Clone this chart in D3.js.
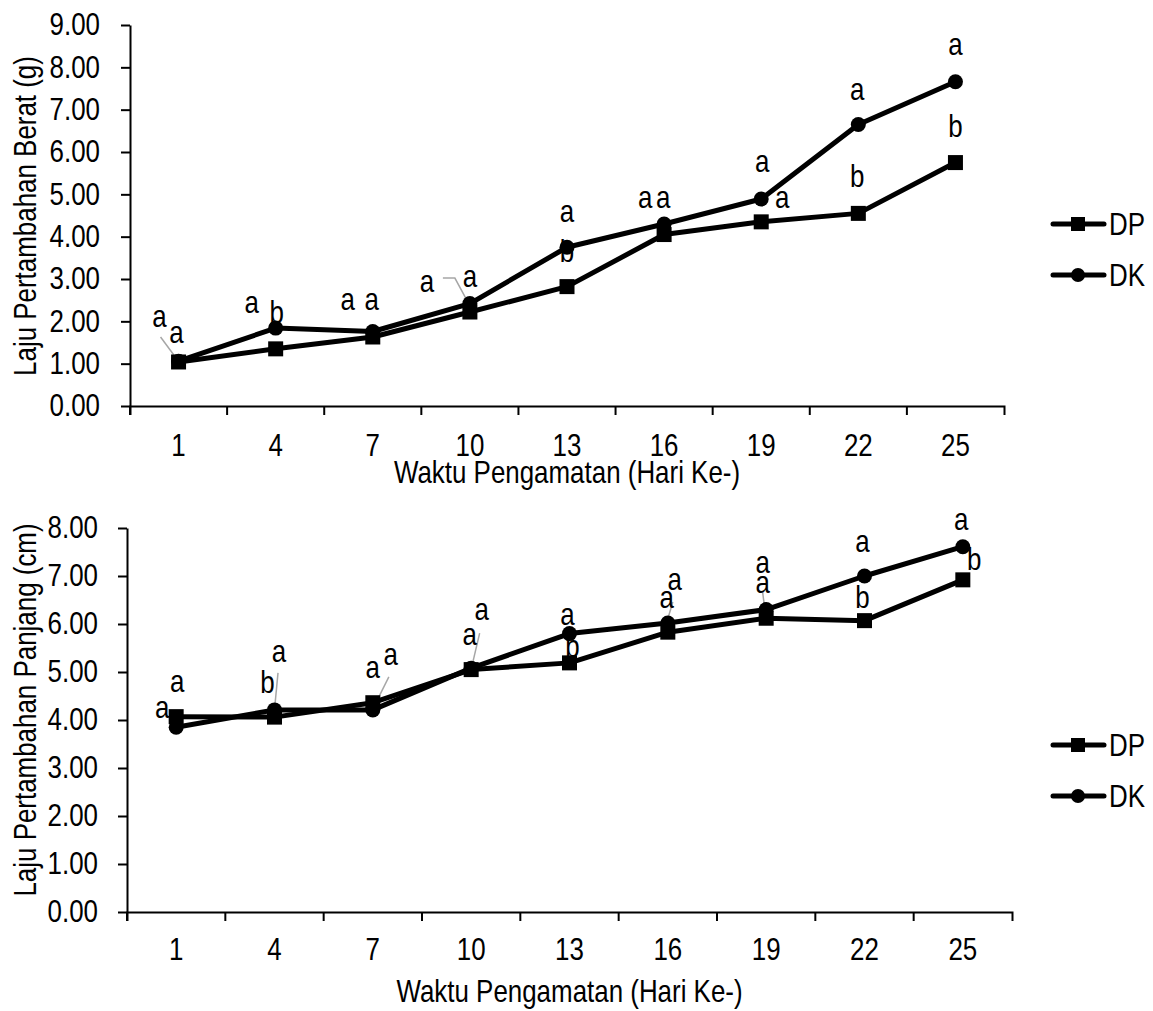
<!DOCTYPE html>
<html>
<head>
<meta charset="utf-8">
<script src="https://cdn.jsdelivr.net/npm/d3@7/dist/d3.min.js"></script>
<style>
  html, body { margin: 0; padding: 0; background: #fff; }
  svg { display: block; }
  text { font-family: "Liberation Sans", Arial, sans-serif; fill: #000; }
</style>
</head>
<body>
<svg id="chart" width="1153" height="1011"></svg>
<script>
// ---------------- DATA ----------------
const days = ["1", "4", "7", "10", "13", "16", "19", "22", "25"];
const seriesNames = ["DP", "DK"];

const weightDP = [1.04, 1.35, 1.63, 2.22, 2.82, 4.05, 4.35, 4.55, 5.75];
const weightDK = [1.06, 1.84, 1.76, 2.42, 3.75, 4.30, 4.89, 6.65, 7.66];
const weightLettersDP = ["a", "b", "a", "a", "b", "a", "a", "b", "b"];
const weightLettersDK = ["a", "a", "a", "a", "a", "a", "a", "a", "a"];
const weightTicks = [0, 1, 2, 3, 4, 5, 6, 7, 8, 9];

const lengthDP = [4.07, 4.06, 4.36, 5.05, 5.19, 5.83, 6.12, 6.07, 6.92];
const lengthDK = [3.85, 4.21, 4.21, 5.08, 5.80, 6.02, 6.30, 7.00, 7.61];
const lengthLettersDP = ["a", "b", "a", "a", "b", "a", "a", "b", "b"];
const lengthLettersDK = ["a", "a", "a", "a", "a", "a", "a", "a", "a"];
const lengthTicks = [0, 1, 2, 3, 4, 5, 6, 7, 8];

const xTitle = "Waktu Pengamatan (Hari Ke-)";

// ---------------- LAYOUT (pixel placement only) ----------------
const charts = [
  {
    dp: weightDP, dk: weightDK, lDP: weightLettersDP, lDK: weightLettersDK, ticks: weightTicks,
    yTitle: "Laju Pertambahan Berat (g)",
    x0: 130, x1: 1004, yTop: 25, yBot: 406,
    xLabelPad: 28, yLabelPad: 21, xTitleY: 483, yTitleX: 25, yTitleY: 216,
    legendY: [224, 275],
    offDP: [[-19, -35], [1, -26], [-25, -27], [-43, -20], [0, -25], [-19, -27], [21, -14], [-1, -26], [0, -26]],
    offDK: [[-2, -18], [-24, -15], [-1, -21], [0, -17], [0, -25], [-1, -16], [1, -27], [-1, -24], [0, -27]],
    leaders: [
      { s: "DP", i: 0, pts: [[-18, -25], [-1, -2]] },
      { s: "DP", i: 3, pts: [[-27, -34], [-15, -34], [-2, -10]] }
    ]
  },
  {
    dp: lengthDP, dk: lengthDK, lDP: lengthLettersDP, lDK: lengthLettersDK, ticks: lengthTicks,
    yTitle: "Laju Pertambahan Panjang (cm)",
    x0: 127, x1: 1012, yTop: 528, yBot: 912,
    xLabelPad: 26, yLabelPad: 20, xTitleY: 1002, yTitleX: 25, yTitleY: 710,
    legendY: [745, 796],
    offDP: [[1, -25], [-7, -24], [0, -25], [-1.5, -25], [3, -6], [-1, -24], [-3.5, -45], [-2, -13], [11.5, -10]],
    offDK: [[-14, -9], [4.5, -48], [18, -45], [10.5, -48], [-2, -9], [7, -33], [-3.5, -17], [-2, -24], [-1.5, -17]],
    leaders: [
      { s: "DK", i: 1, pts: [[3.5, -37], [-0.5, 5]] },
      { s: "DK", i: 2, pts: [[16, -33], [0, -1]] },
      { s: "DK", i: 3, pts: [[8.5, -35], [0.5, -1]] },
      { s: "DK", i: 5, pts: [[5, -21], [-1, -1]] },
      { s: "DK", i: 6, pts: [[-3.5, -17], [-1.5, -2]] }
    ]
  }
];

const FONT = 30.5;
const NARROW = 0.85;   // emulate a narrow sans face by horizontal compression
function narrow(sel) {
  sel.each(function () {
    const t = d3.select(this);
    const x = +(t.attr("x") || 0);
    const tr = t.attr("transform");
    t.attr("x", x / NARROW).attr("transform", (tr ? tr + " " : "") + `scale(${NARROW},1)`);
  });
}

const svg = d3.select("#chart");

charts.forEach(c => {
  const g = svg.append("g");
  const x = d3.scaleBand().domain(days).range([c.x0, c.x1]).paddingInner(0).paddingOuter(0);
  const cx = d => x(d) + x.bandwidth() / 2;
  const y = d3.scaleLinear().domain([0, d3.max(c.ticks)]).range([c.yBot, c.yTop]);

  // Y axis
  const yAxis = g.append("g").attr("transform", `translate(${c.x0},0)`)
    .call(d3.axisLeft(y).tickValues(c.ticks).tickFormat(d3.format(".2f")).tickSize(9).tickSizeOuter(0).tickPadding(c.yLabelPad));
  yAxis.selectAll("path, line").attr("stroke", "#000").attr("stroke-width", 2);
  yAxis.selectAll("text").attr("font-size", FONT).attr("font-family", null).call(narrow);

  // X axis (labels at category centres, ticks at band boundaries)
  const xAxis = g.append("g").attr("transform", `translate(0,${c.yBot})`)
    .call(d3.axisBottom(x).tickSizeInner(0).tickSizeOuter(9).tickPadding(c.xLabelPad));
  xAxis.selectAll("path").attr("stroke", "#000").attr("stroke-width", 2);
  xAxis.selectAll("text").attr("font-size", FONT).attr("font-family", null).call(narrow);
  xAxis.selectAll(".bnd").data(days).enter().append("line")
    .attr("x1", d => x(d)).attr("x2", d => x(d)).attr("y1", 0).attr("y2", 9)
    .attr("stroke", "#000").attr("stroke-width", 2);

  // Titles
  g.append("text").attr("x", (c.x0 + c.x1) / 2).attr("y", c.xTitleY)
    .attr("text-anchor", "middle").attr("font-size", FONT).text(xTitle).call(narrow);
  g.append("text").attr("transform", `translate(${c.yTitleX},${c.yTitleY}) rotate(-90)`)
    .attr("text-anchor", "middle").attr("dominant-baseline", "central")
    .attr("font-size", FONT).text(c.yTitle).call(narrow);

  const series = { DP: { vals: c.dp, letters: c.lDP, off: c.offDP }, DK: { vals: c.dk, letters: c.lDK, off: c.offDK } };

  // Leader lines
  c.leaders.forEach(L => {
    const px = cx(days[L.i]), py = y(series[L.s].vals[L.i]);
    g.append("path")
      .attr("d", d3.line()(L.pts.map(p => [px + p[0], py + p[1]])))
      .attr("fill", "none").attr("stroke", "#a6a6a6").attr("stroke-width", 1.5);
  });

  // Data labels (beneath markers)
  seriesNames.forEach(s => {
    const S = series[s];
    g.selectAll(null).data(days).enter().append("text")
      .attr("x", (d, i) => cx(d) + S.off[i][0])
      .attr("y", (d, i) => y(S.vals[i]) + S.off[i][1])
      .attr("text-anchor", "middle").attr("font-size", FONT)
      .text((d, i) => S.letters[i]).call(narrow);
  });

  // Lines and markers
  seriesNames.forEach(s => {
    const S = series[s];
    const pts = days.map((d, i) => [cx(d), y(S.vals[i])]);
    g.append("path").attr("d", d3.line()(pts))
      .attr("fill", "none").attr("stroke", "#000").attr("stroke-width", 5)
      .attr("stroke-linejoin", "round");
    if (s === "DP") {
      g.selectAll(null).data(pts).enter().append("rect")
        .attr("x", p => p[0] - 7.5).attr("y", p => p[1] - 7.5)
        .attr("width", 15).attr("height", 15).attr("fill", "#000");
    } else {
      g.selectAll(null).data(pts).enter().append("circle")
        .attr("cx", p => p[0]).attr("cy", p => p[1]).attr("r", 7.5).attr("fill", "#000");
    }
  });

  // Legend
  seriesNames.forEach((s, k) => {
    const ly = c.legendY[k];
    const lg = g.append("g");
    lg.append("line").attr("x1", 1053).attr("x2", 1104).attr("y1", ly).attr("y2", ly)
      .attr("stroke", "#000").attr("stroke-width", 5).attr("stroke-linecap", "round");
    if (s === "DP") {
      lg.append("rect").attr("x", 1078 - 7).attr("y", ly - 7).attr("width", 14).attr("height", 14).attr("fill", "#000");
    } else {
      lg.append("circle").attr("cx", 1078).attr("cy", ly).attr("r", 7).attr("fill", "#000");
    }
    lg.append("text").attr("x", 1109).attr("y", ly).attr("dy", "0.36em")
      .attr("font-size", FONT).text(s).call(narrow);
  });
});
</script>
</body>
</html>
